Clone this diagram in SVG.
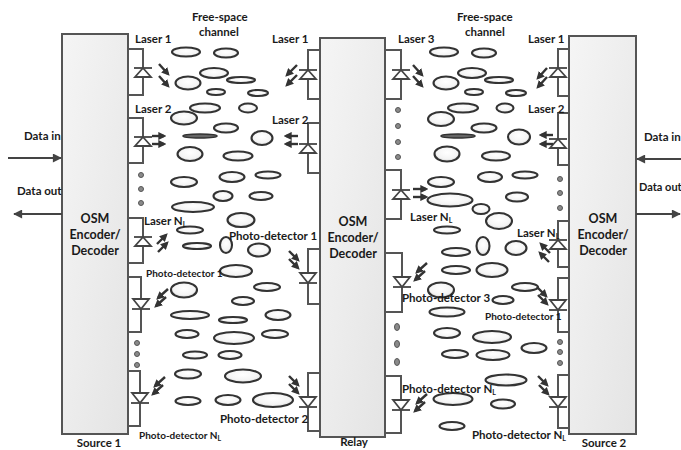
<svg xmlns="http://www.w3.org/2000/svg" xmlns:xlink="http://www.w3.org/1999/xlink" width="681" height="450" viewBox="0 0 681 450">
  <style>
    .box { fill: url(#boxFill); stroke: #555; stroke-width: 2; }
    .wire { fill: none; stroke: #555; stroke-width: 2; stroke-linejoin: miter; }
    .dio { fill: #fff; stroke: #444; stroke-width: 1.8; stroke-linejoin: miter; }
    .ray { stroke: #333; stroke-width: 2.4; marker-end: url(#rayHead); }
    .data { stroke: #444; stroke-width: 2; marker-end: url(#dataHead); }
    .dot { fill: #8a8a8a; stroke: #555; stroke-width: 1; }
    .cloud ellipse { fill: url(#cloudFill); stroke: #333; stroke-width: 2.1; }
    .cloud ellipse.flat { fill: #666; stroke: #333; stroke-width: 1.5; }
    text { font-family: Lato, "Liberation Sans", sans-serif; fill: #1a1a1a; }
    .lbl { font-size: 11.5px; font-weight: bold; }
    .sm { font-size: 10px; font-weight: bold; }
    .md { font-size: 11.5px; font-weight: bold; }
    .osm { font-size: 12.5px; font-weight: bold; text-anchor: middle; }
    .sub { font-size: 7px; }
  </style>
  <defs>
    <linearGradient id="boxFill" x1="0" y1="0" x2="1" y2="1">
      <stop offset="0" stop-color="#f5f5f5"/>
      <stop offset="1" stop-color="#e4e4e4"/>
    </linearGradient>
    <radialGradient id="cloudFill" cx="0.5" cy="0.4" r="0.6">
      <stop offset="0" stop-color="#ffffff"/>
      <stop offset="0.7" stop-color="#f4f4f4"/>
      <stop offset="1" stop-color="#d4d4d4"/>
    </radialGradient>
    <marker id="rayHead" viewBox="0 0 10 10" refX="7" refY="5" markerWidth="3.4" markerHeight="3.4" orient="auto">
      <path d="M0,0 L10,5 L0,10 z" fill="#333"/>
    </marker>
    <marker id="dataHead" viewBox="0 0 10 10" refX="9" refY="5" markerWidth="5" markerHeight="4.5" orient="auto">
      <path d="M0,0 L10,5 L0,10 z" fill="#444"/>
    </marker>
    <!-- laser diode: bar at origin, triangle pointing up onto it -->
    <g id="laserDiode">
      <polygon class="dio" points="0,0 -8,9 8,9"/>
      <line class="dio" x1="-9" y1="0" x2="9" y2="0"/>
    </g>
    <!-- photodiode: bar at origin, triangle pointing down onto it -->
    <g id="photoDiode">
      <polygon class="dio" points="0,0 -8,-10 8,-10"/>
      <line class="dio" x1="-9" y1="0" x2="9" y2="0"/>
    </g>
  </defs>

  <rect width="681" height="450" fill="#fff"/>

  <!-- free-space channel: turbulence cells between source 1 and relay -->
  <g id="channel-left" class="cloud">
    <ellipse cx="186" cy="52" rx="14" ry="4.5"/>
    <ellipse cx="226" cy="53" rx="12" ry="4.5"/>
    <ellipse cx="214" cy="73" rx="14" ry="5"/>
    <ellipse cx="188" cy="83" rx="12.5" ry="6.5"/>
    <ellipse cx="241" cy="80" rx="14" ry="3"/>
    <ellipse cx="216" cy="92" rx="9" ry="3"/>
    <ellipse cx="258" cy="93" rx="10" ry="3"/>
    <ellipse cx="205" cy="108" rx="15" ry="4.5"/>
    <ellipse cx="248" cy="108" rx="9" ry="4.5"/>
    <ellipse cx="184" cy="118" rx="13" ry="6.5"/>
    <ellipse cx="226" cy="128" rx="12" ry="4.5"/>
    <ellipse class="flat" cx="200" cy="136" rx="17" ry="2"/>
    <ellipse cx="262" cy="138" rx="10.5" ry="7"/>
    <ellipse cx="190" cy="154" rx="12.5" ry="7"/>
    <ellipse cx="238" cy="156" rx="14.5" ry="4.5"/>
    <ellipse cx="184" cy="182" rx="13" ry="5"/>
    <ellipse cx="232" cy="177" rx="12.5" ry="5"/>
    <ellipse cx="268" cy="175" rx="12.5" ry="3.5"/>
    <ellipse cx="223" cy="196" rx="9.5" ry="5"/>
    <ellipse cx="261" cy="196" rx="11.5" ry="4"/>
    <ellipse cx="193" cy="207" rx="21" ry="5"/>
    <ellipse cx="241" cy="220" rx="13.5" ry="7"/>
    <ellipse cx="190" cy="230" rx="13" ry="3.5"/>
    <ellipse cx="197" cy="246" rx="14" ry="3"/>
    <ellipse cx="226" cy="245" rx="6" ry="8"/>
    <ellipse cx="259" cy="250" rx="11" ry="6.5"/>
    <ellipse cx="236" cy="271" rx="16" ry="6"/>
    <ellipse cx="184" cy="290" rx="13" ry="7.5"/>
    <ellipse cx="267" cy="287" rx="13" ry="4"/>
    <ellipse cx="243" cy="301" rx="11" ry="4"/>
    <ellipse cx="190" cy="315" rx="19" ry="4"/>
    <ellipse cx="233" cy="320" rx="14" ry="3"/>
    <ellipse cx="278" cy="315" rx="12.5" ry="5"/>
    <ellipse cx="187" cy="334" rx="11.5" ry="4"/>
    <ellipse cx="234" cy="338" rx="20" ry="6"/>
    <ellipse cx="275" cy="334" rx="13" ry="4"/>
    <ellipse cx="195" cy="355" rx="12" ry="3.5"/>
    <ellipse cx="230" cy="355" rx="11.5" ry="4"/>
    <ellipse cx="188" cy="374" rx="13" ry="4.5"/>
    <ellipse cx="243" cy="376" rx="18" ry="6.5"/>
    <ellipse cx="188" cy="401" rx="12.5" ry="4"/>
    <ellipse cx="228" cy="400" rx="12.5" ry="5"/>
    <ellipse cx="273" cy="400" rx="20" ry="7"/>
  </g>

  <!-- free-space channel: turbulence cells between relay and source 2 -->
  <g id="channel-right" class="cloud">
    <ellipse cx="444" cy="52" rx="14" ry="4.5"/>
    <ellipse cx="484" cy="53" rx="12" ry="4.5"/>
    <ellipse cx="472" cy="73" rx="14" ry="5"/>
    <ellipse cx="446" cy="83" rx="12.5" ry="6.5"/>
    <ellipse cx="499" cy="80" rx="14" ry="3"/>
    <ellipse cx="474" cy="92" rx="9" ry="3"/>
    <ellipse cx="516" cy="93" rx="10" ry="3"/>
    <ellipse cx="463" cy="108" rx="15" ry="4.5"/>
    <ellipse cx="505" cy="108" rx="8.5" ry="4.5"/>
    <ellipse cx="441" cy="119" rx="13" ry="7"/>
    <ellipse cx="484" cy="128" rx="12.5" ry="4.5"/>
    <ellipse class="flat" cx="458" cy="136" rx="17" ry="2"/>
    <ellipse cx="519" cy="137" rx="11" ry="7.5"/>
    <ellipse cx="447" cy="154" rx="12.5" ry="7.5"/>
    <ellipse cx="496" cy="156" rx="14" ry="4.5"/>
    <ellipse cx="490" cy="177" rx="12" ry="5"/>
    <ellipse cx="525" cy="175" rx="12.5" ry="3.5"/>
    <ellipse cx="441" cy="182" rx="13" ry="5"/>
    <ellipse cx="517" cy="197" rx="11" ry="4.5"/>
    <ellipse cx="450" cy="200" rx="22.5" ry="6.5"/>
    <ellipse cx="481" cy="209" rx="8.5" ry="5"/>
    <ellipse cx="499" cy="221" rx="13" ry="8"/>
    <ellipse cx="447" cy="230" rx="13" ry="3.5"/>
    <ellipse cx="456" cy="252" rx="14" ry="4"/>
    <ellipse cx="483" cy="246" rx="6.5" ry="9"/>
    <ellipse cx="516" cy="248" rx="10.5" ry="7"/>
    <ellipse cx="456" cy="270" rx="14" ry="4"/>
    <ellipse cx="492" cy="270" rx="15.5" ry="7"/>
    <ellipse cx="441" cy="290" rx="13" ry="7.5"/>
    <ellipse cx="525" cy="287" rx="13" ry="4"/>
    <ellipse cx="503" cy="300" rx="10.5" ry="4"/>
    <ellipse cx="447" cy="312" rx="17.5" ry="4.5"/>
    <ellipse cx="447" cy="333" rx="13" ry="5"/>
    <ellipse cx="492" cy="337" rx="19" ry="6"/>
    <ellipse cx="534" cy="348" rx="12.5" ry="5"/>
    <ellipse cx="455" cy="354" rx="13" ry="4"/>
    <ellipse cx="493" cy="355" rx="16.5" ry="5"/>
    <ellipse cx="506" cy="380" rx="20.5" ry="5.5"/>
    <ellipse cx="453" cy="399" rx="19.5" ry="6"/>
    <ellipse cx="503" cy="404" rx="12" ry="4.5"/>
    <ellipse cx="452" cy="426" rx="12.5" ry="4"/>
  </g>

  <text class="lbl" x="192" y="21">Free-space</text>
  <text class="lbl" x="199" y="36">channel</text>
  <text class="lbl" x="457" y="21">Free-space</text>
  <text class="lbl" x="465" y="36">channel</text>

  <!-- Source 1 -->
  <g id="source1">
    <path class="wire" d="M128,49 H143 V95 H128"/>
    <path class="wire" d="M128,118 H143 V163 H128"/>
    <path class="wire" d="M128,218 H143 V263 H128"/>
    <path class="wire" d="M128,277 H141 V332 H128"/>
    <path class="wire" d="M128,371 H140 V426 H128"/>
    <rect class="box" x="62" y="34" width="66" height="400"/>
    <use xlink:href="#laserDiode" x="143" y="68"/>
    <use xlink:href="#laserDiode" x="143" y="137"/>
    <use xlink:href="#laserDiode" x="143" y="237"/>
    <use xlink:href="#photoDiode" x="141" y="309"/>
    <use xlink:href="#photoDiode" x="140" y="403"/>
    <circle class="dot" cx="141" cy="175" r="2.5"/>
    <circle class="dot" cx="141" cy="189" r="2.5"/>
    <circle class="dot" cx="141" cy="203" r="2.5"/>
    <circle class="dot" cx="137" cy="343" r="2.5"/>
    <circle class="dot" cx="137" cy="354" r="2.5"/>
    <circle class="dot" cx="137" cy="365" r="2.5"/>
    <line class="ray" x1="159" y1="64" x2="168" y2="74"/>
    <line class="ray" x1="159" y1="76" x2="168" y2="86"/>
    <line class="ray" x1="152" y1="136" x2="164" y2="136"/>
    <line class="ray" x1="152" y1="144" x2="164" y2="144"/>
    <line class="ray" x1="157" y1="244" x2="166" y2="235"/>
    <line class="ray" x1="158" y1="252" x2="167" y2="243"/>
    <line class="ray" x1="168" y1="289" x2="158" y2="298"/>
    <line class="ray" x1="166" y1="297" x2="156" y2="306"/>
    <line class="ray" x1="165" y1="377" x2="155" y2="386"/>
    <line class="ray" x1="163" y1="385" x2="153" y2="394"/>
    <text class="osm" x="95" y="223">OSM</text>
    <text class="osm" x="95" y="239">Encoder/</text>
    <text class="osm" x="95" y="255">Decoder</text>
    <text class="lbl" x="135" y="43">Laser 1</text>
    <text class="lbl" x="135" y="113">Laser 2</text>
    <text class="lbl" x="144" y="225">Laser N<tspan class="sub" dy="2">L</tspan></text>
    <text class="sm" x="146" y="277">Photo-detector 1</text>
    <text class="sm" x="139" y="439">Photo-detector N<tspan class="sub" dy="2">L</tspan></text>
    <text class="lbl" x="99" y="447" text-anchor="middle">Source 1</text>
  </g>

  <!-- Relay -->
  <g id="relay">
    <path class="wire" d="M320,50 H308 V99 H320"/>
    <path class="wire" d="M320,123 H308 V173 H320"/>
    <path class="wire" d="M320,249 H308 V304 H320"/>
    <path class="wire" d="M320,373 H308 V431 H320"/>
    <path class="wire" d="M385,50 H401 V99 H385"/>
    <path class="wire" d="M385,170 H401 V219 H385"/>
    <path class="wire" d="M385,253 H402 V312 H385"/>
    <path class="wire" d="M385,376 H401 V433 H385"/>
    <rect class="box" x="320" y="38" width="65" height="399"/>
    <use xlink:href="#laserDiode" x="308" y="70"/>
    <use xlink:href="#laserDiode" x="308" y="144"/>
    <use xlink:href="#photoDiode" x="308" y="283"/>
    <use xlink:href="#photoDiode" x="308" y="407"/>
    <use xlink:href="#laserDiode" x="401" y="70"/>
    <use xlink:href="#laserDiode" x="401" y="190"/>
    <use xlink:href="#photoDiode" x="402" y="287"/>
    <use xlink:href="#photoDiode" x="401" y="410"/>
    <circle class="dot" cx="398" cy="110" r="2.5"/>
    <circle class="dot" cx="398" cy="126" r="2.5"/>
    <circle class="dot" cx="398" cy="142" r="2.5"/>
    <circle class="dot" cx="398" cy="157" r="2.5"/>
    <ellipse class="dot" cx="397" cy="327" rx="2.5" ry="3.5"/>
    <ellipse class="dot" cx="397" cy="344" rx="2.5" ry="3.5"/>
    <ellipse class="dot" cx="397" cy="362" rx="2.5" ry="3.5"/>
    <line class="ray" x1="297" y1="65" x2="287" y2="75"/>
    <line class="ray" x1="297" y1="75" x2="287" y2="85"/>
    <line class="ray" x1="298" y1="136" x2="286" y2="136"/>
    <line class="ray" x1="298" y1="144" x2="286" y2="144"/>
    <line class="ray" x1="289" y1="251" x2="298" y2="260"/>
    <line class="ray" x1="289" y1="259" x2="298" y2="268"/>
    <line class="ray" x1="289" y1="376" x2="298" y2="385"/>
    <line class="ray" x1="289" y1="384" x2="298" y2="393"/>
    <line class="ray" x1="413" y1="65" x2="422" y2="75"/>
    <line class="ray" x1="413" y1="76" x2="422" y2="86"/>
    <line class="ray" x1="413" y1="189" x2="426" y2="189"/>
    <line class="ray" x1="413" y1="197" x2="426" y2="197"/>
    <line class="ray" x1="427" y1="263" x2="417" y2="272"/>
    <line class="ray" x1="425" y1="271" x2="415" y2="280"/>
    <line class="ray" x1="427" y1="394" x2="417" y2="403"/>
    <line class="ray" x1="425" y1="402" x2="415" y2="411"/>
    <text class="osm" x="353" y="226">OSM</text>
    <text class="osm" x="353" y="242">Encoder/</text>
    <text class="osm" x="353" y="258">Decoder</text>
    <text class="lbl" x="272" y="43">Laser 1</text>
    <text class="lbl" x="272" y="124">Laser 2</text>
    <text class="lbl" x="398" y="43">Laser 3</text>
    <text class="md" x="229" y="240">Photo-detector 1</text>
    <text class="lbl" x="410" y="221">Laser N<tspan class="sub" dy="2">L</tspan></text>
    <text class="md" x="402" y="302">Photo-detector 3</text>
    <text class="md" x="402" y="393">Photo-detector N<tspan class="sub" dy="2">L</tspan></text>
    <text class="md" x="220" y="423">Photo-detector 2</text>
    <text class="lbl" x="354" y="446" text-anchor="middle">Relay</text>
  </g>

  <!-- Source 2 -->
  <g id="source2">
    <path class="wire" d="M569,49 H558 V96 H569"/>
    <path class="wire" d="M569,113 H558 V165 H569"/>
    <path class="wire" d="M569,221 H558 V267 H569"/>
    <path class="wire" d="M569,278 H558 V332 H569"/>
    <path class="wire" d="M569,375 H558 V428 H569"/>
    <rect class="box" x="569" y="36" width="67" height="398"/>
    <use xlink:href="#laserDiode" x="558" y="68"/>
    <use xlink:href="#laserDiode" x="558" y="139"/>
    <use xlink:href="#laserDiode" x="558" y="240"/>
    <use xlink:href="#photoDiode" x="558" y="310"/>
    <use xlink:href="#photoDiode" x="558" y="407"/>
    <circle class="dot" cx="560" cy="179" r="2.5"/>
    <circle class="dot" cx="560" cy="193" r="2.5"/>
    <circle class="dot" cx="560" cy="208" r="2.5"/>
    <circle class="dot" cx="560" cy="342" r="2.5"/>
    <circle class="dot" cx="560" cy="352" r="2.5"/>
    <circle class="dot" cx="560" cy="363" r="2.5"/>
    <line class="ray" x1="547" y1="68" x2="538" y2="78"/>
    <line class="ray" x1="547" y1="77" x2="538" y2="87"/>
    <line class="ray" x1="553" y1="135" x2="541" y2="135"/>
    <line class="ray" x1="553" y1="144" x2="541" y2="144"/>
    <line class="ray" x1="550" y1="253" x2="541" y2="244"/>
    <line class="ray" x1="549" y1="262" x2="540" y2="253"/>
    <line class="ray" x1="537" y1="287" x2="546" y2="296"/>
    <line class="ray" x1="538" y1="295" x2="547" y2="304"/>
    <line class="ray" x1="538" y1="376" x2="547" y2="385"/>
    <line class="ray" x1="539" y1="385" x2="548" y2="394"/>
    <text class="osm" x="603" y="223">OSM</text>
    <text class="osm" x="603" y="239">Encoder/</text>
    <text class="osm" x="603" y="255">Decoder</text>
    <text class="lbl" x="528" y="43">Laser 1</text>
    <text class="lbl" x="528" y="113">Laser 2</text>
    <text class="lbl" x="517" y="237">Laser N<tspan class="sub" dy="2">L</tspan></text>
    <text class="sm" x="485" y="320">Photo-detector 1</text>
    <text class="md" x="472" y="439">Photo-detector N<tspan class="sub" dy="2">L</tspan></text>
    <text class="lbl" x="604" y="447" text-anchor="middle">Source 2</text>
  </g>

  <!-- data connections -->
  <g id="connectors">
    <line class="data" x1="8" y1="158" x2="61" y2="158"/>
    <line class="data" x1="62" y1="214" x2="14" y2="214"/>
    <line class="data" x1="681" y1="159" x2="637" y2="159"/>
    <line class="data" x1="636" y1="214" x2="680" y2="214"/>
    <text class="lbl" x="24" y="140">Data in</text>
    <text class="lbl" x="17" y="195">Data out</text>
    <text class="lbl" x="644" y="141">Data in</text>
    <text class="lbl" x="639" y="191" style="font-size:11px">Data out</text>
  </g>
</svg>
